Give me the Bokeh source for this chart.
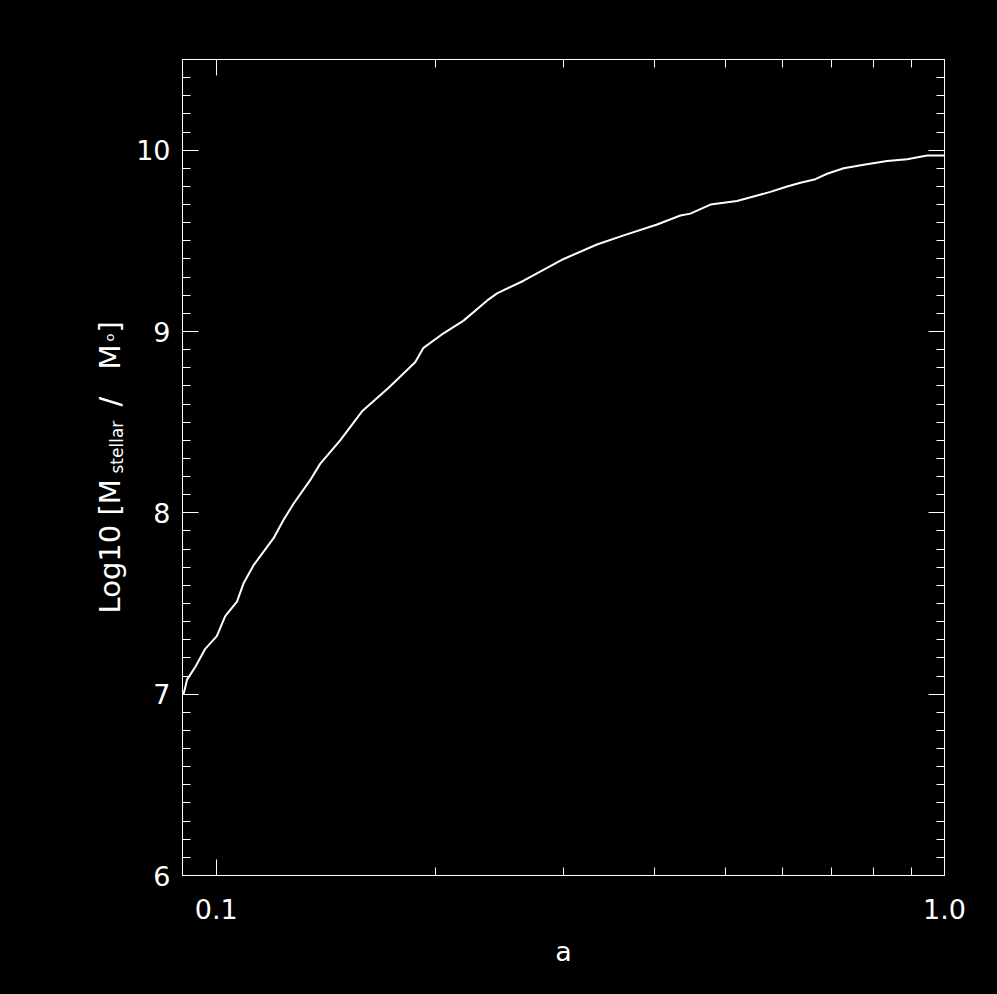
import math
from bokeh.plotting import figure
from bokeh.layouts import row
from bokeh.models import (Range1d, FixedTicker, LinearAxis, LogAxis,
                          CustomJSTickFormatter, ColumnDataSource)
from bokeh.embed import file_html
from bokeh.resources import INLINE

# ---------------- data ----------------
a_vals = [0.0902, 0.0912, 0.0936, 0.0966, 0.1002, 0.1029, 0.1068, 0.1090,
          0.1125, 0.1149, 0.1199, 0.1237, 0.1277, 0.1346, 0.1389, 0.1480,
          0.1586, 0.1725, 0.1876, 0.1926, 0.2052, 0.2186, 0.2354, 0.2430,
          0.2643, 0.3000, 0.3333, 0.3627, 0.4031, 0.4339, 0.4478, 0.4771,
          0.5190, 0.5530, 0.5767, 0.6080, 0.6342, 0.6649, 0.6900, 0.7271,
          0.7748, 0.8342, 0.8887, 0.9467, 1.0000]
logm_vals = [7.00, 7.08, 7.15, 7.25, 7.32, 7.43, 7.51, 7.61,
             7.71, 7.76, 7.86, 7.96, 8.05, 8.18, 8.27, 8.40,
             8.56, 8.69, 8.83, 8.91, 8.99, 9.06, 9.17, 9.21,
             9.28, 9.40, 9.48, 9.53, 9.59, 9.64, 9.65, 9.70,
             9.72, 9.75, 9.77, 9.80, 9.82, 9.84, 9.87, 9.90,
             9.92, 9.94, 9.95, 9.97, 9.97]

x_ticks = [0.1, 1.0]
x_minor = [0.2, 0.3, 0.4, 0.5, 0.6, 0.7, 0.8, 0.9]
y_ticks = [6, 7, 8, 9, 10]
y_minor = [round(6 + 0.1 * i, 1) for i in range(46) if i % 10 != 0]

x_title = "a"
y_title_parts = ["Log10 [M", "stellar", "/", "M", "o", "]"]

X_START, X_END = 0.0899, 1.0
Y_START, Y_END = 6.0, 10.5

FONT = "DejaVu Sans"
WHITE = "#ffffff"
TOTAL_W, TOTAL_H = 997, 994
LEFT_W = 130
FR_TOP, FR_BOTTOM = 59, 875  # page y of the plot frame

# ---------------- main plot ----------------
p = figure(width=TOTAL_W - LEFT_W, height=TOTAL_H, x_axis_type="log",
           x_range=Range1d(X_START, X_END), y_range=Range1d(Y_START, Y_END),
           output_backend="svg", toolbar_location=None,
           background_fill_color="black", border_fill_color="black",
           min_border_left=182 - LEFT_W, min_border_right=53,
           min_border_top=FR_TOP, min_border_bottom=TOTAL_H - FR_BOTTOM)
p.outline_line_color = WHITE
p.outline_line_width = 1
p.grid.visible = False

p.line(a_vals, logm_vals, line_color=WHITE, line_width=2)


def style(ax):
    ax.axis_line_color = WHITE
    ax.major_tick_line_color = WHITE
    ax.minor_tick_line_color = WHITE
    ax.major_tick_in = 16
    ax.major_tick_out = 0
    ax.minor_tick_in = 8
    ax.minor_tick_out = 0
    ax.major_label_text_color = WHITE
    ax.major_label_text_font = FONT
    ax.major_label_text_font_size = "27px"


xa = p.xaxis[0]
xa.ticker = FixedTicker(ticks=x_ticks, minor_ticks=x_minor)
xa.formatter = CustomJSTickFormatter(code="return tick.toFixed(1);")
style(xa)
xa.major_label_standoff = 23
xa.axis_label = x_title
xa.axis_label_text_color = WHITE
xa.axis_label_text_font = FONT
xa.axis_label_text_font_size = "27px"
xa.axis_label_text_font_style = "normal"
xa.axis_label_standoff = 14

ya = p.yaxis[0]
ya.ticker = FixedTicker(ticks=y_ticks, minor_ticks=y_minor)
style(ya)
ya.major_label_standoff = 12

blank = CustomJSTickFormatter(code="return '';")
top = LogAxis(ticker=FixedTicker(ticks=x_ticks, minor_ticks=x_minor), formatter=blank)
style(top)
top.major_label_text_font_size = "1px"
p.add_layout(top, "above")
right = LinearAxis(ticker=FixedTicker(ticks=y_ticks, minor_ticks=y_minor), formatter=blank)
style(right)
right.major_label_text_font_size = "1px"
p.add_layout(right, "right")

# ---------------- y-axis title strip (page-pixel coordinates) ----------------
t = figure(width=LEFT_W, height=TOTAL_H, x_range=Range1d(0, LEFT_W),
           y_range=Range1d(TOTAL_H - FR_BOTTOM, TOTAL_H - FR_TOP),
           output_backend="svg", toolbar_location=None,
           x_axis_location=None, y_axis_location=None,
           background_fill_color="black", border_fill_color="black",
           min_border=0, min_border_left=0, min_border_right=0,
           min_border_top=FR_TOP, min_border_bottom=TOTAL_H - FR_BOTTOM)
t.outline_line_color = None
t.grid.visible = False

# baseline x (page px), start y (page px), font size for each part
bx = [109.3, 116.5, 109.3, 109.3, 108.5, 109.3]
sy = [613, 473, 406, 369, 341, 332]
fs = ["29px", "17px", "29px", "29px", "13px", "29px"]
src = ColumnDataSource(dict(x=bx, y=[TOTAL_H - v for v in sy],
                            text=y_title_parts, fs=fs))
t.text(x="x", y="y", text="text", source=src, angle=math.pi / 2,
       text_align="left", text_baseline="alphabetic", text_color=WHITE,
       text_font={"value": FONT}, text_font_size="fs")

layout = row(t, p, spacing=0)

html = file_html(layout, INLINE)
html = html.replace("</head>",
                    "<style>html, body {background-color:#000000;}</style></head>", 1)
open("out.html", "w").write(html)
